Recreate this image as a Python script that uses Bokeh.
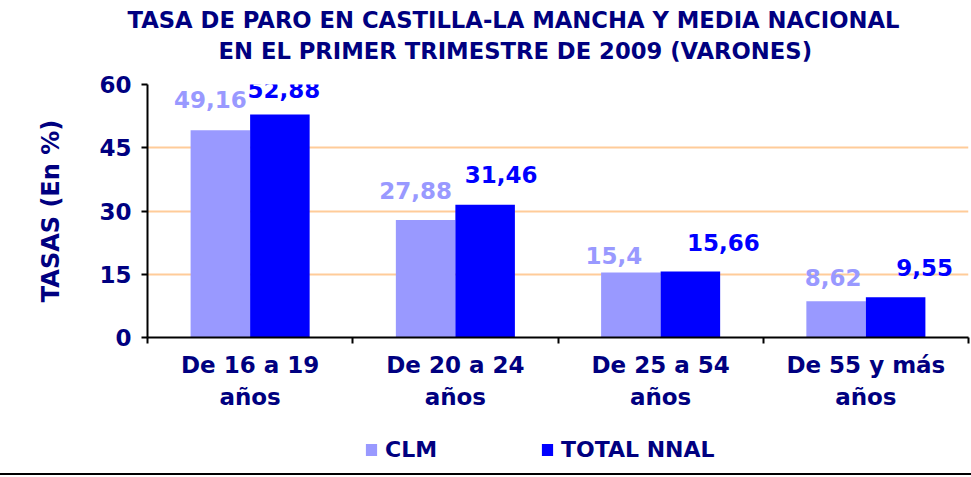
from bokeh.plotting import figure
from bokeh.layouts import column
from bokeh.models import (ColumnDataSource, FixedTicker, Legend, LegendItem,
                          LinearAxis, Range1d, Title)
from bokeh.core.properties import value
from bokeh.embed import file_html
from bokeh.resources import INLINE

# ---- data ----
categories = ["De 16 a 19\naños", "De 20 a 24\naños", "De 25 a 54\naños", "De 55 y más\naños"]
clm = [49.16, 27.88, 15.4, 8.62]
nnal = [52.88, 31.46, 15.66, 9.55]
series_names = ["CLM", "TOTAL NNAL"]
y_ticks = [0, 15, 30, 45, 60]
title_lines = ["TASA DE PARO EN CASTILLA-LA MANCHA Y MEDIA NACIONAL",
               "EN EL PRIMER TRIMESTRE DE 2009 (VARONES)"]
y_title = "TASAS (En %)"

# ---- styles ----
C_CLM = "#9999FF"
C_NNAL = "#0000FF"
NAVY = "#000080"
GRID = "#FFCC99"
FONT = "DejaVu Sans"
BAR_W = 0.29
# label offsets (px) relative to bar top-centre
clm_dx = [-10, -10, -17, -3]
clm_dy = [-31, -29, -17, -24]
nnal_dx = [4, 16, 33, 29]
nnal_dy = [-25, -30, -29, -30]

def fmt(v):
    return ("%g" % v).replace(".", ",")

n = len(categories)
centers = [i + 0.5 for i in range(n)]

# ---------- main chart ----------
src_clm = ColumnDataSource(dict(x=[c - BAR_W / 2 for c in centers], top=clm,
                                lab=[fmt(v) for v in clm], dx=clm_dx, dy=clm_dy))
src_nnal = ColumnDataSource(dict(x=[c + BAR_W / 2 for c in centers], top=nnal,
                                 lab=[fmt(v) for v in nnal], dx=nnal_dx, dy=nnal_dy))

p = figure(width=971, height=420, frame_width=821, frame_height=253,
           output_backend="svg", toolbar_location=None,
           x_range=Range1d(0, n), y_range=Range1d(0, 60), x_axis_type=None)
p.min_border_left = 147
p.min_border_right = 3
p.min_border_top = 84
p.min_border_bottom = 83
p.outline_line_color = None
p.title = None

r1 = p.vbar(x="x", top="top", width=BAR_W, source=src_clm, fill_color=C_CLM, line_color=None)
r2 = p.vbar(x="x", top="top", width=BAR_W, source=src_nnal, fill_color=C_NNAL, line_color=None)

for src, col in ((src_clm, C_CLM), (src_nnal, C_NNAL)):
    p.text(x="x", y="top", text="lab", source=src, x_offset="dx", y_offset="dy",
           text_align="center", text_baseline="middle", text_font=value(FONT),
           text_font_style="bold", text_font_size="23px", text_color=col)

ya = p.yaxis[0]
ya.ticker = FixedTicker(ticks=y_ticks)
ya.axis_label = y_title
ya.axis_label_text_font = FONT
ya.axis_label_text_font_style = "bold"
ya.axis_label_text_font_size = "24px"
ya.axis_label_text_color = NAVY
ya.axis_label_standoff = 31
ya.major_label_text_font = FONT
ya.major_label_text_font_style = "bold"
ya.major_label_text_font_size = "23px"
ya.major_label_text_color = NAVY
ya.axis_line_color = "black"
ya.axis_line_width = 2
ya.major_tick_line_color = "black"
ya.major_tick_line_width = 2
ya.major_tick_in = 0
ya.major_tick_out = 6
ya.minor_tick_line_color = None
ya.major_label_standoff = 10

xa = LinearAxis(ticker=FixedTicker(ticks=centers, minor_ticks=list(range(n + 1))))
xa.major_label_overrides = {c: lab for c, lab in zip(centers, categories)}
xa.major_label_text_font = FONT
xa.major_label_text_font_style = "bold"
xa.major_label_text_font_size = "23px"
xa.major_label_text_color = NAVY
xa.major_label_text_line_height = 1.26
xa.major_label_standoff = 8
xa.axis_line_color = "black"
xa.axis_line_width = 2
xa.major_tick_line_color = None
xa.minor_tick_line_color = "black"
xa.minor_tick_line_width = 2
xa.minor_tick_in = 0
xa.minor_tick_out = 6
p.add_layout(xa, "below")

p.xgrid.grid_line_color = None
p.ygrid[0].ticker = FixedTicker(ticks=y_ticks)
p.ygrid.grid_line_color = GRID
p.ygrid.grid_line_width = 2

# two-line title (second line closest to the plot)
t2 = Title(text=title_lines[1], align="left", offset=71, standoff=42, text_font=FONT,
           text_font_style="bold", text_font_size="22.7px", text_color=NAVY)
t1 = Title(text=title_lines[0], align="left", offset=-20, standoff=0, text_font=FONT,
           text_font_style="bold", text_font_size="22.7px", text_color=NAVY)
try:
    t1.standoff = -37
except Exception:
    t1.standoff = 0
p.add_layout(t2, "above")
p.add_layout(t1, "above")

# ---------- legend strip ----------
pl = figure(width=971, height=55, output_backend="svg", toolbar_location=None,
            x_range=Range1d(0, 1), y_range=Range1d(0, 1), x_axis_type=None, y_axis_type=None)
pl.min_border_left = 147
pl.min_border_right = 3
pl.min_border_top = pl.min_border_bottom = 0
pl.outline_line_color = None
pl.title = None
pl.xgrid.grid_line_color = None
pl.ygrid.grid_line_color = None
l1 = pl.vbar(x=[5], top=[0], width=0.1, fill_color=C_CLM, line_color=None)
l2 = pl.vbar(x=[5], top=[0], width=0.1, fill_color=C_NNAL, line_color=None)
legend = Legend(items=[LegendItem(label=series_names[0], renderers=[l1]),
                       LegendItem(label=series_names[1], renderers=[l2])],
                orientation="horizontal", location=(217, 13),
                glyph_width=14, glyph_height=15, label_standoff=7,
                label_width=155, spacing=0,
                padding=0, margin=0, border_line_color=None, background_fill_alpha=0,
                label_text_font=FONT, label_text_font_style="bold",
                label_text_font_size="22px", label_text_color=NAVY)
pl.add_layout(legend, "center")
pl.styles = {"border-bottom": "2px solid black"}

layout = column(p, pl, spacing=0)
open("out.html", "w").write(file_html(layout, INLINE))
